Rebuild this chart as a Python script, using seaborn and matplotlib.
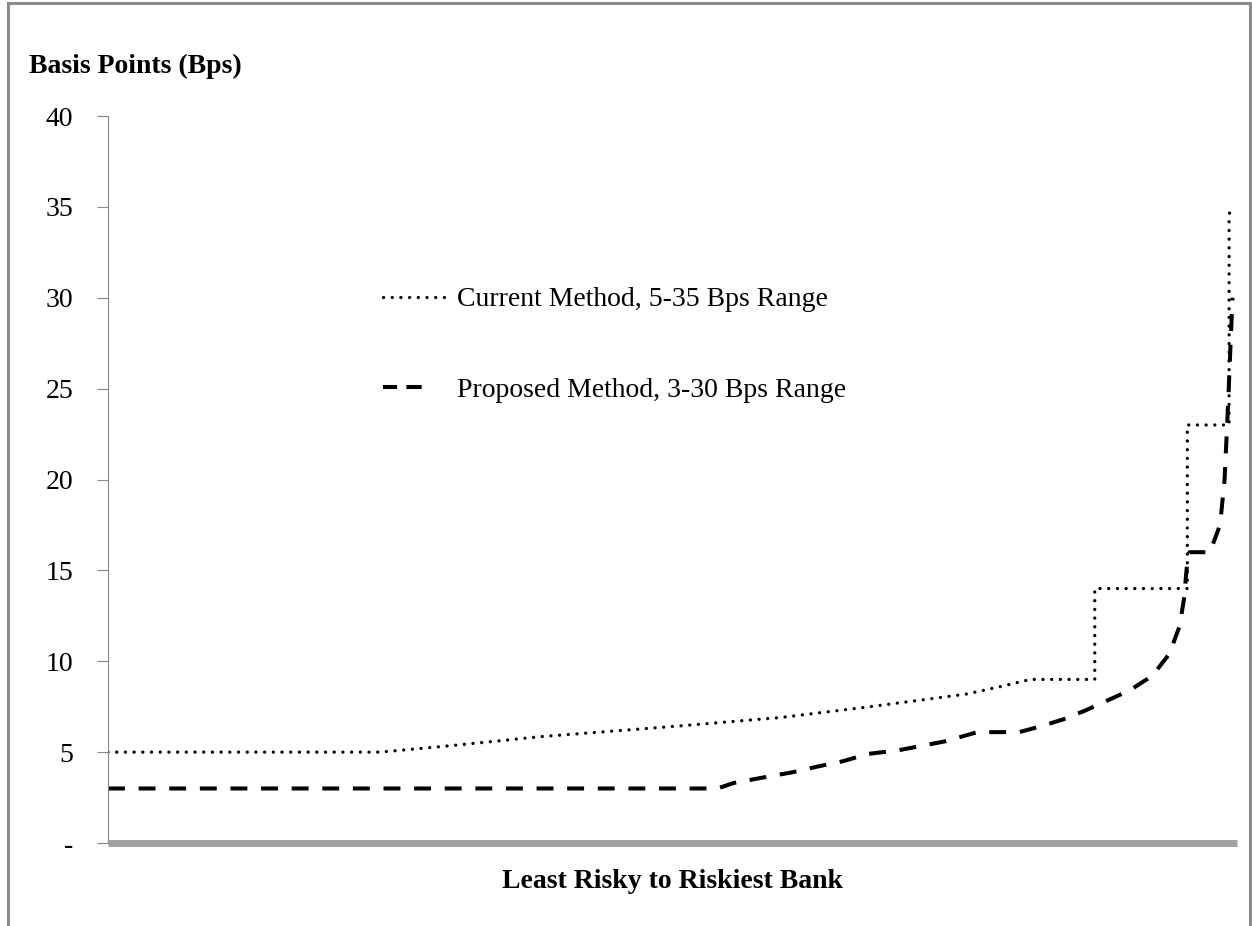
import numpy as np
import pandas as pd
import matplotlib
matplotlib.use("Agg")
import matplotlib.pyplot as plt
import seaborn as sns
from matplotlib.patches import Rectangle

# ---- data (x = bank rank percentile, least risky -> riskiest) ----
current_x = [0, 24.1, 30.3, 38.3, 49.8, 59.5, 67.5, 76.1, 79.0, 81.7, 87.4, 87.4, 95.6, 95.6, 99.3, 99.3, 99.6]
current_y = [5.0, 5.0, 5.35, 5.85, 6.4, 6.9, 7.5, 8.2, 8.6, 9.0, 9.0, 14.0, 14.0, 23.0, 23.0, 34.6, 35.0]

proposed_x = [0, 54.0, 55.4, 58.0, 60.7, 62.8, 65.1, 67.3, 70.0, 74.2, 77.0, 80.7, 82.5, 84.6, 86.6, 90.5, 92.5, 94.0, 94.9, 95.3, 95.6, 95.8, 97.6, 98.5, 98.9, 99.2, 99.6]
proposed_y = [3.0, 3.0, 3.3, 3.6, 3.9, 4.2, 4.5, 4.9, 5.1, 5.6, 6.1, 6.1, 6.4, 6.8, 7.3, 8.4, 9.2, 10.4, 11.9, 13.4, 15.5, 16.0, 16.0, 17.5, 20.0, 24.0, 30.0]

series_labels = ["Current Method, 5-35 Bps Range", "Proposed Method, 3-30 Bps Range"]
y_ticks = [0, 5, 10, 15, 20, 25, 30, 35, 40]
y_tick_labels = ["-", "5", "10", "15", "20", "25", "30", "35", "40"]
y_title = "Basis Points (Bps)"
x_title = "Least Risky to Riskiest Bank"

df = pd.concat([
    pd.DataFrame({"x": current_x, "y": current_y, "series": series_labels[0]}),
    pd.DataFrame({"x": proposed_x, "y": proposed_y, "series": series_labels[1]}),
])

sns.set_style("white")
plt.rcParams["font.family"] = ["Liberation Serif", "DejaVu Serif"]
plt.rcParams["text.color"] = "black"

W, H = 1252, 926
fig = plt.figure(figsize=(W / 100, H / 100), dpi=100)
ax = fig.add_axes([108 / W, 1 - 843 / H, (1237 - 108) / W, (843 - 116) / H])

for lab, sub in df.groupby("series", sort=False):
    sns.lineplot(data=sub, x="x", y="y", estimator=None, sort=False, color="black", ax=ax, label=lab)

lines = ax.get_lines()
lines[0].set_linewidth(2.4)
lines[0].set_linestyle((0, (0.01, 2.6)))
lines[0].set_dash_capstyle("round")
lines[1].set_linewidth(2.9)
lines[1].set_linestyle((0, (4.2, 3.4)))
lines[1].set_dash_capstyle("butt")

ax.set_xlim(0, 100)
ax.set_ylim(0, 40)
ax.set_yticks(y_ticks)
ax.set_yticklabels(y_tick_labels, fontsize=20)
ax.set_xticks([])
ax.set_xlabel("")
ax.set_ylabel("")
ax.tick_params(axis="y", direction="out", length=8, width=0.8, color="#888888",
               labelcolor="black", pad=17, left=True)

for s in ["top", "right"]:
    ax.spines[s].set_visible(False)
ax.spines["left"].set_color("#888888")
ax.spines["left"].set_linewidth(0.8)
ax.spines["bottom"].set_color("#a0a0a0")
ax.spines["bottom"].set_linewidth(5)
ax.spines["bottom"].set_capstyle("butt")

leg = ax.legend(loc="upper left", bbox_to_anchor=(383 / W, 1 - 287 / H), bbox_transform=fig.transFigure,
                frameon=False, fontsize=20, handlelength=2.3, handletextpad=0.35, labelspacing=2.35,
                borderpad=0, borderaxespad=0)
for t in leg.get_texts():
    t.set_color("black")
leg_lines = leg.get_lines()
leg_lines[1].set_linestyle((0, (3.5, 2.3, 3.8, 20)))

fig.text(29 / W, 1 - 66 / H, y_title, fontsize=20, fontweight="bold", ha="left", va="center", color="black")
fig.text((108 + 1237) / 2 / W, 1 - 881 / H, x_title, fontsize=20, fontweight="bold", ha="center", va="center",
         color="black")

fig.patches.append(Rectangle((8 / W, -0.05), (1250 - 8) / W, (1 - 3 / H) + 0.05, transform=fig.transFigure,
                             fill=False, edgecolor="#8c8c8c", linewidth=2.2))

fig.savefig("out.png", dpi=100, facecolor="white")
